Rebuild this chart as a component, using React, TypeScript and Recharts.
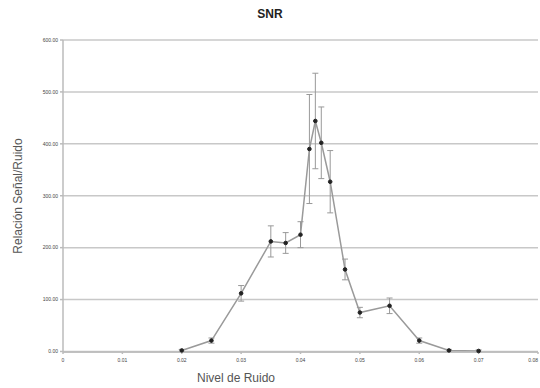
import { LineChart, Line, XAxis, YAxis, CartesianGrid, ErrorBar } from "recharts"

const noiseLevels = [0.02, 0.025, 0.03, 0.035, 0.0375, 0.04, 0.0415, 0.0425, 0.0435, 0.045, 0.0475, 0.05, 0.055, 0.06, 0.065, 0.07]
const snrValues = [2, 21, 112, 212, 209, 225, 390, 444, 402, 327, 158, 75, 88, 21, 2, 1]
const snrErrors = [2, 5, 15, 30, 20, 25, 105, 92, 69, 60, 20, 10, 15, 5, 2, 2]
const xTicks = [0, 0.01, 0.02, 0.03, 0.04, 0.05, 0.06, 0.07, 0.08]
const yTicks = [0, 100, 200, 300, 400, 500, 600]

const data = noiseLevels.map((x, i) => ({ x, snr: snrValues[i], err: snrErrors[i] }))

const font = "'Liberation Sans', Arial, sans-serif"

// last x label would run past the right edge, so anchor it at its end
function XTick(props: any) {
  const { x, y, payload, index } = props
  const last = index === xTicks.length - 1
  const v = payload.value as number
  return (
    <text x={x} y={y + 6} textAnchor={last ? "end" : "middle"} fontSize={5} fill="#444" fontFamily={font}>
      {v === 0 ? "0" : v.toFixed(2)}
    </text>
  )
}

export default function App() {
  return (
    <div style={{ position: "absolute", left: 0, top: 0, width: 540, height: 388, background: "#fff", fontFamily: font }}>
      <div style={{ position: "absolute", left: 0, width: 540, top: 7, textAlign: "center", fontWeight: "bold", fontSize: 12, color: "#222" }}>
        SNR
      </div>
      <div
        style={{
          position: "absolute",
          left: 18,
          top: 196,
          transform: "translate(-50%, -50%) rotate(-90deg)",
          whiteSpace: "nowrap",
          fontSize: 12,
          color: "#555",
        }}
      >
        Relación Señal/Ruido
      </div>
      <div style={{ position: "absolute", left: 236, top: 371, transform: "translateX(-50%)", fontSize: 12, color: "#555", whiteSpace: "nowrap" }}>
        Nivel de Ruido
      </div>
      <LineChart width={540} height={388} data={data} margin={{ top: 40, right: 2, bottom: 0, left: 0 }}>
        <CartesianGrid vertical={false} stroke="#c8c8c8" strokeWidth={1.5} />
        <XAxis
          dataKey="x"
          type="number"
          domain={[0, 0.08]}
          ticks={xTicks}
          height={36}
          tick={<XTick />}
          tickSize={2}
          stroke="#bbb"
          strokeWidth={1.5}
          interval={0}
        />
        <YAxis
          type="number"
          domain={[0, 600]}
          ticks={yTicks}
          width={63}
          tickFormatter={(v: number) => v.toFixed(2)}
          tick={{ fontSize: 5, fill: "#444", fontFamily: font }}
          tickSize={3}
          stroke="#bbb"
          strokeWidth={1.5}
          interval={0}
        />
        <Line
          dataKey="snr"
          stroke="#9a9a9a"
          strokeWidth={1.5}
          dot={{ r: 1.8, fill: "#222", stroke: "#222", strokeWidth: 1 }}
          isAnimationActive={false}
        >
          <ErrorBar dataKey="err" width={3} stroke="#999" strokeWidth={1} direction="y" />
        </Line>
      </LineChart>
    </div>
  )
}
